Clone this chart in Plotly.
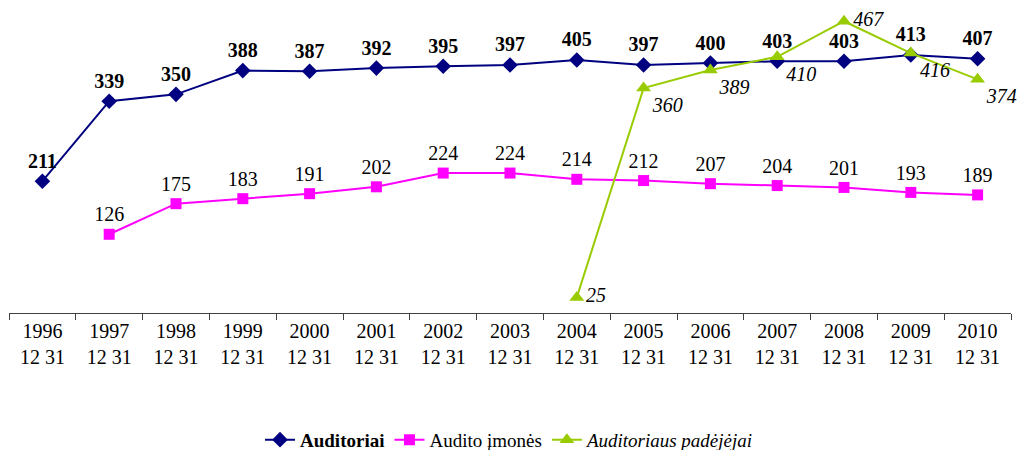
import plotly.graph_objects as go

years = ["1996", "1997", "1998", "1999", "2000", "2001", "2002", "2003",
         "2004", "2005", "2006", "2007", "2008", "2009", "2010"]
tick_labels = [y + "<br>12 31" for y in years]

auditoriai = [211, 339, 350, 388, 387, 392, 395, 397, 405, 397, 400, 403, 403, 413, 407]
audito_imones = [None, 126, 175, 183, 191, 202, 224, 224, 214, 212, 207, 204, 201, 193, 189]
padejejai = [None, None, None, None, None, None, None, None, 25, 360, 389, 410, 467, 416, 374]

FONT = "Liberation Serif"

fig = go.Figure()

fig.add_trace(go.Scatter(
    x=years, y=auditoriai, mode="lines+markers+text",
    name="<b>Auditoriai</b>",
    line=dict(color="#000080", width=2),
    marker=dict(symbol="diamond", size=12, color="#000080"),
    text=[f"<b>{v}</b>" for v in auditoriai],
    textposition="top center",
    textfont=dict(family=FONT, size=20, color="black"),
    cliponaxis=False,
))

fig.add_trace(go.Scatter(
    x=years, y=audito_imones, mode="lines+markers+text",
    name="Audito įmonės",
    line=dict(color="#FF00FF", width=2),
    marker=dict(symbol="square", size=11, color="#FF00FF"),
    text=["" if v is None else str(v) for v in audito_imones],
    textposition="top center",
    textfont=dict(family=FONT, size=20, color="black"),
    cliponaxis=False,
))

green_pos = ["middle right"] * 8 + ["middle right", "bottom right", "bottom right",
                                     "bottom right", "middle right", "bottom right", "bottom right"]
fig.add_trace(go.Scatter(
    x=years, y=padejejai, mode="lines+markers+text",
    name="<i>Auditoriaus padėjėjai</i>",
    line=dict(color="#99CC00", width=2),
    marker=dict(symbol="triangle-up", size=13, color="#99CC00"),
    text=["" if v is None else f"<i>{v}</i>" for v in padejejai],
    textposition=green_pos,
    textfont=dict(family=FONT, size=20, color="black"),
    cliponaxis=False,
))

fig.update_layout(
    width=1022, height=450,
    margin=dict(l=9, r=11, t=5, b=137, autoexpand=False),
    paper_bgcolor="white", plot_bgcolor="white",
    font=dict(family=FONT, size=20, color="black"),
    showlegend=True,
    legend=dict(orientation="h", x=0.5, xanchor="center", y=-0.35, yanchor="top",
                font=dict(family=FONT, size=19, color="black"),
                tracegroupgap=0),
    xaxis=dict(
        type="category", tickmode="array", tickvals=years, ticktext=tick_labels,
        range=[-0.5, 14.5], tickson="boundaries", ticks="outside", ticklen=6,
        tickcolor="#404040", showline=True, linecolor="#404040", linewidth=1,
        showgrid=False, zeroline=False, automargin=False,
        tickfont=dict(family=FONT, size=20, color="black"),
    ),
    yaxis=dict(range=[0, 493], visible=False, showgrid=False, zeroline=False,
               automargin=False),
)

fig.write_html("out.html",
               config={"displayModeBar": False},
               post_script="document.body.style.margin='0';document.body.style.overflow='hidden';")
